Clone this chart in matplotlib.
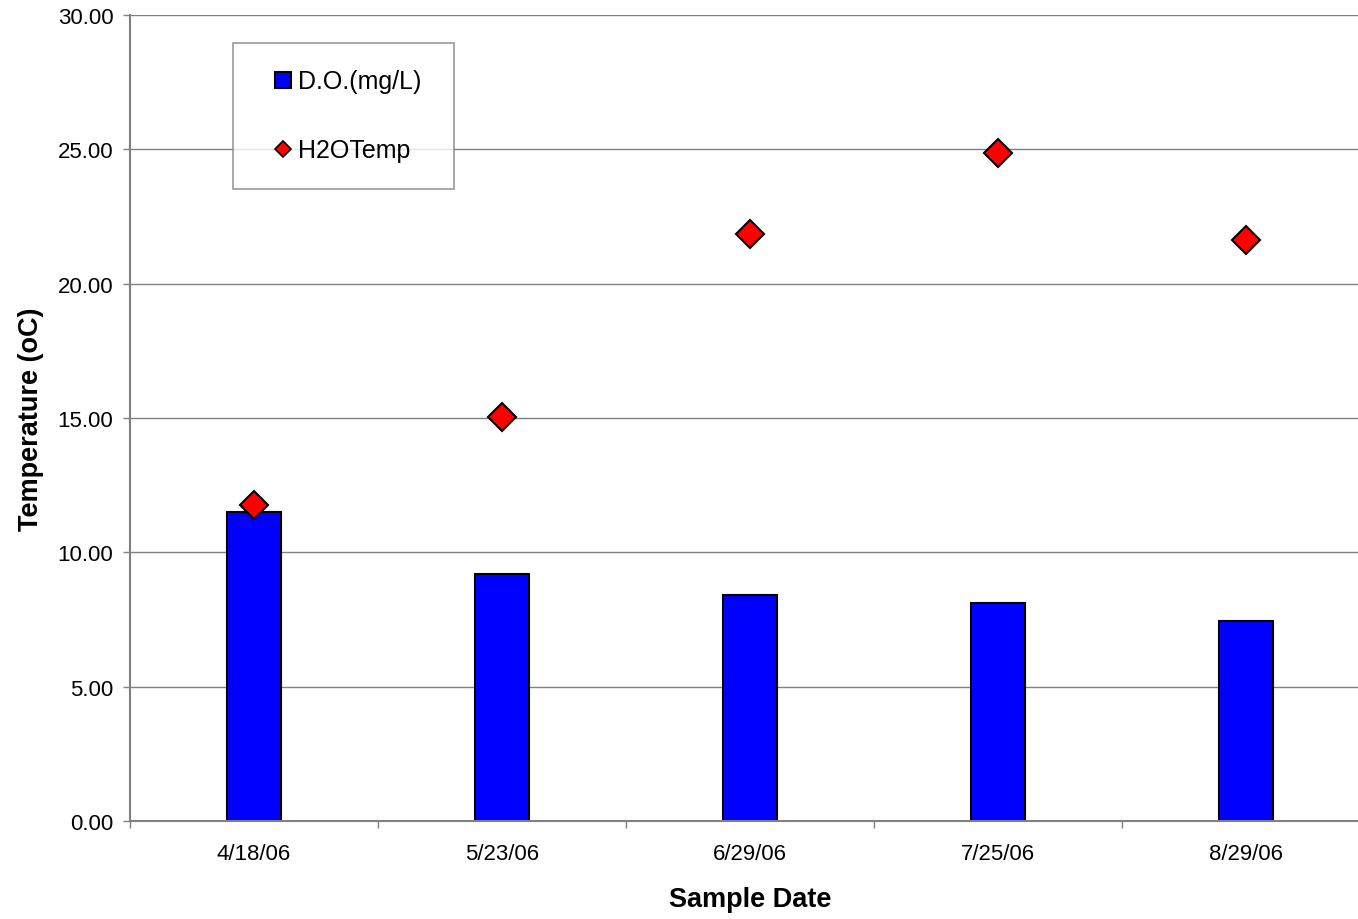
import matplotlib
matplotlib.use("Agg")
import matplotlib.pyplot as plt
from matplotlib.lines import Line2D
import numpy as np

plt.rcParams['font.family'] = ['Liberation Sans', 'DejaVu Sans']

dates = ["4/18/06", "5/23/06", "6/29/06", "7/25/06", "8/29/06"]
do_mgl = [11.50, 9.19, 8.41, 8.11, 7.44]
h2o_temp = [11.76, 15.03, 21.85, 24.86, 21.62]
yticks = [0, 5, 10, 15, 20, 25, 30]

fig = plt.figure(figsize=(13.58, 9.2), dpi=100)
ax = fig.add_axes([130/1358, 98/920, 1240/1358, 806/920])

x = np.arange(len(dates))
ax.set_axisbelow(True)
ax.yaxis.grid(True, color='#808080', linewidth=1.0)
ax.bar(x, do_mgl, width=0.22, color='#0000FF', edgecolor='black', linewidth=1.5, zorder=2)
ax.plot(x, h2o_temp, linestyle='none', marker='D', markersize=14.5,
        markerfacecolor='#FF0000', markeredgecolor='black', markeredgewidth=1.5, zorder=3)

ax.set_xlim(-0.5, 4.5)
ax.set_ylim(0, 30)
ax.set_yticks(yticks)
ax.set_yticklabels([f"{v:.2f}" for v in yticks], fontsize=16)
ax.set_xticks(x)
ax.set_xticklabels(dates, fontsize=16)
ax.tick_params(axis='x', which='major', length=0, pad=16)
ax.set_xticks(np.arange(-0.5, 4.6, 1.0), minor=True)
ax.tick_params(axis='x', which='minor', length=5, width=1, color='#808080', direction='out')
ax.tick_params(axis='y', length=5, width=1, color='#808080', direction='out', pad=7)

for s in ['top', 'right']:
    ax.spines[s].set_visible(False)
for s in ['left', 'bottom']:
    ax.spines[s].set_color('#808080')
    ax.spines[s].set_linewidth(1.5)

ax.set_xlabel('Sample Date', fontsize=19.5, fontweight='bold', labelpad=16)
ax.set_ylabel('Temperature (oC)', fontsize=19.5, fontweight='bold', labelpad=10)

handles = [
    Line2D([], [], linestyle='none', marker='s', markersize=11, markerfacecolor='#0000FF',
           markeredgecolor='black', markeredgewidth=1.5),
    Line2D([], [], linestyle='none', marker='D', markersize=8, markerfacecolor='#FF0000',
           markeredgecolor='black', markeredgewidth=1.2),
]
leg = ax.legend(handles, ['D.O.(mg/L) ', 'H2OTemp'],
                loc='upper left', bbox_to_anchor=(103/1240, (822-44)/806),
                fontsize=18, frameon=True, fancybox=False, edgecolor='#808080',
                labelspacing=1.8, borderpad=1.05, handlelength=1.9, handletextpad=-0.36,
                borderaxespad=0)
leg.get_frame().set_linewidth(1.2)

fig.savefig('out.png', dpi=100)
